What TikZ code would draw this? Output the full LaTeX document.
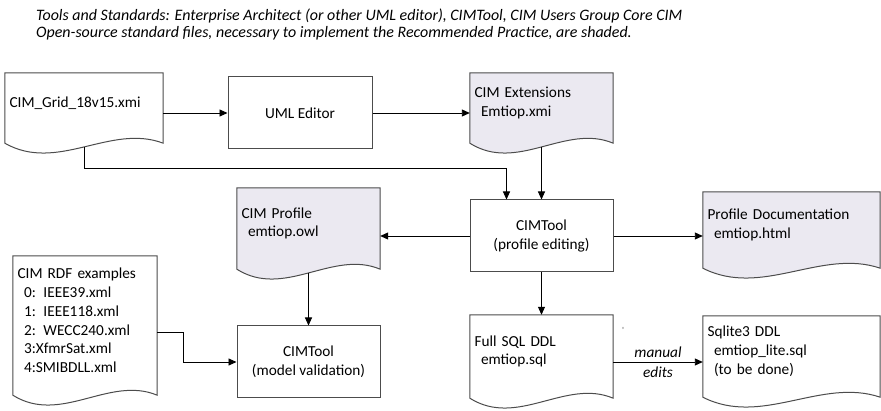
\documentclass[tikz,border=0pt]{standalone}
\usepackage{fontspec}
\setmainfont{Carlito}
\usetikzlibrary{arrows.meta,calc,backgrounds}

\begin{document}
\begin{tikzpicture}[
    >={Triangle[length=8pt,width=7pt]},
    x=1pt,
    y=-1pt,
    font=\fontsize{15.3}{18.8}\selectfont,
    proc/.style={draw=black!70, line width=1pt, align=center, inner sep=0pt},
    doc/.style={inner xsep=4.5pt, inner ysep=0pt, align=left},
    docline/.style={draw=black!70, line width=1pt},
    conn/.style={->, line width=0.9pt, black},
    note/.style={font=\fontsize{15.95}{18}\selectfont\itshape, anchor=base west, inner sep=0pt},
    edge label/.style={font=\fontsize{15.3}{18.8}\selectfont\itshape, inner sep=0pt}
]

% parameters
\def\bw{143}          % box width
\def\bh{72}           % box height
\def\wave{10}         % drop of the wave below the node
\def\ind{\hspace*{6.5pt}}
\colorlet{shade}{rgb,255:red,235;green,233;blue,241}

% document outline: straight sides, wavy bottom
\def\docoutline#1#2{%
  \draw[docline, fill=#2] (#1.north west) -- ($(#1.south west)+(0,\wave)$)
    .. controls ($(#1.south west)!0.333!(#1.south east)+(0,\wave+30)$)
       and ($(#1.south west)!0.667!(#1.south east)+(0,\wave-20)$)
    .. ($(#1.south east)+(0,\wave)$) -- (#1.north east) -- cycle;
  \coordinate (#1-foot) at ($(#1.south)+(0,\wave+3.75)$);
}

\useasboundingbox (0,0) rectangle (881,411);

% ---------------- Header ----------------
\node[note] (title1) at (36,20.3)
    {Tools and Standards: Enterprise Architect (or other UML editor), CIMTool, CIM Users Group Core CIM};
\node[note] (title2) at (36,37.8)
    {Open-source standard files, necessary to implement the Recommended Practice, are shaded.};

% ---------------- Top row ----------------
\node[doc, text width=149pt, minimum height=60pt] (grid) at (84,103) {CIM\_Grid\_18v15.xmi};
\node[proc, minimum width=144pt, minimum height=\bh pt] (uml) at (300,113) {UML Editor};
\node[doc, text width=134pt, minimum height=60pt] (ext) at (541.5,103) {CIM Extensions\\\ind Emtiop.xmi};

% ---------------- Middle row ----------------
\node[doc, text width=134pt, minimum height=71pt] (profile) at (308.5,223.5) {CIM Profile\\\ind emtiop.owl};
\node[proc, minimum width=\bw pt, minimum height=\bh pt] (cimtool) at (541.5,236) {CIMTool\\(profile editing)};
\node[doc, text width=168pt, minimum height=66pt] (profdoc) at (791.5,225) {Profile Documentation\\\ind emtiop.html};

% ---------------- Bottom row ----------------
\node[doc, text width=135pt, minimum height=129pt] (rdf) at (85,320.5)
    {CIM RDF examples\\\ind 0: IEEE39.xml\\\ind 1: IEEE118.xml\\\ind 2: WECC240.xml\\\ind 3:XfmrSat.xml\\\ind 4:SMIBDLL.xml};
\node[proc, minimum width=\bw pt, minimum height=\bh pt] (valid) at (308.5,362) {CIMTool\\(model validation)};
\node[doc, text width=134pt, minimum height=73pt] (sql) at (541.5,351.5) {Full SQL DDL\\\ind emtiop.sql};
\node[doc, text width=168pt, minimum height=71pt] (lite) at (791.5,351.5) {Sqlite3 DDL\\\ind emtiop\_lite.sql\\\ind (to be done)};
\node[font=\fontsize{9}{9}\selectfont, inner sep=0pt, text=black!70] (tick) at (623,330) {\textquotesingle};

% document outlines behind the text
\begin{pgfonlayer}{background}
\docoutline{grid}{white}
\docoutline{ext}{shade}
\docoutline{profile}{shade}
\docoutline{profdoc}{shade}
\docoutline{rdf}{white}
\docoutline{sql}{white}
\docoutline{lite}{white}
\end{pgfonlayer}

% ---------------- Connectors ----------------
\draw[conn] (grid.east |- uml.west) -- (uml.west);
\draw[conn] (uml.east) -- (uml.east -| ext.west);
\draw[conn] (grid-foot) -- ++(0,22) -| ([xshift=-35pt]cimtool.north);
\draw[conn] (ext-foot) -- (cimtool.north);
\draw[conn] (cimtool.west) -- (cimtool.west -| profile.east);
\draw[conn] (cimtool.east) -- (cimtool.east -| profdoc.west);
\draw[conn] (profile-foot) -- (valid.north);
\draw[conn] ([yshift=-12pt]rdf.east) -- ++(26,0) |- (valid.west);
\draw[conn] (cimtool.south) -- (sql.north);
\draw[conn] (sql.east |- valid.west) -- (lite.west |- valid.west)
    node[midway, above=4pt, edge label] (manual) {manual}
    node[midway, below=4pt, edge label] (edits) {edits};

\end{tikzpicture}
\end{document}
